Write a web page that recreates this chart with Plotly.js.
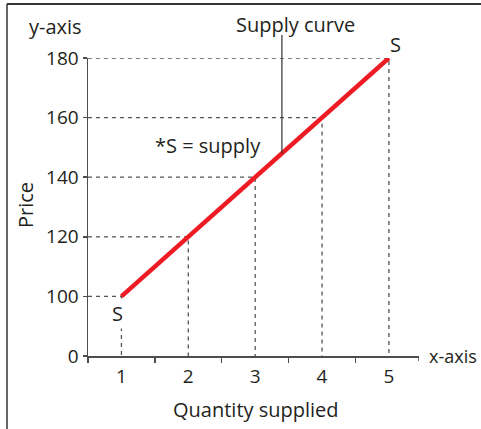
<!DOCTYPE html>
<html>
<head>
<meta charset="utf-8">
<script src="https://cdn.plot.ly/plotly-3.0.1.min.js"></script>
<style>html,body{margin:0;padding:0;background:#fff;}#chart{width:481px;height:429px;}</style>
</head>
<body>
<div id="chart"></div>
<script>
// ---- data ----
var quantity = [1, 2, 3, 4, 5];
var price = [100, 120, 140, 160, 180];
var xTickLabels = ["1", "2", "3", "4", "5"];
var yTickLabels = ["0", "100", "120", "140", "160", "180"];
var curveLabel = "Supply curve";
var curvePointer = {q: 3.4, p: 148};
var noteText = "*S = supply";

// ---- layout helpers ----
var W = 481, H = 429;
var L = 88, R = 419, T = 58, B = 356;
function px(x){ return (x - L) / (R - L); }
function py(y){ return (B - y) / (B - T); }
var yFloor = 80;            // axis break: "0" shown at the floor
var xLo = 0.5, xHi = 5.45;
var ink = "#231f20";
var axisCol = "#4d4d4d";
var font = "Open Sans, Noto Sans, sans-serif";
var fs = 20;

var traces = [];
// dashed guide lines from data
for (var i = 0; i < quantity.length; i++) {
  traces.push({
    x: [xLo, quantity[i], quantity[i]],
    y: [price[i], price[i], yFloor],
    mode: "lines", type: "scatter", hoverinfo: "skip", showlegend: false,
    line: {color: "#555", width: 1.3, dash: "4px,4px"}
  });
}
// supply curve
traces.push({
  x: quantity, y: price, mode: "lines", type: "scatter", showlegend: false,
  line: {color: "#ed1c24", width: 4.5}, cliponaxis: false
});

var yTickVals = [yFloor].concat(price);

function note(x, y, text, extra){
  var a = {xref: "paper", yref: "paper", x: px(x), y: py(y), text: text, showarrow: false,
           xanchor: "center", yanchor: "middle", font: {size: fs, family: font, color: ink}};
  if (extra) for (var k in extra) a[k] = extra[k];
  return a;
}

var layout = {
  width: W, height: H,
  margin: {l: L, r: W - R, t: T, b: H - B, pad: 0},
  paper_bgcolor: "#fff", plot_bgcolor: "#fff",
  font: {family: font, size: fs, color: ink},
  showlegend: false,
  xaxis: {
    range: [xLo, xHi], showgrid: false, zeroline: false,
    showline: true, linecolor: axisCol, linewidth: 1.5,
    tickmode: "array", tickvals: quantity, ticktext: xTickLabels,
    ticks: "", ticklabelstandoff: 3,
    tickfont: {family: font, size: 19, color: ink},
    minor: {tickmode: "linear", tick0: 0.5, dtick: 1, ticks: "outside", ticklen: 5, tickcolor: axisCol, tickwidth: 1.5, showgrid: false}
  },
  yaxis: {
    range: [yFloor, 180], showgrid: false, zeroline: false,
    showline: true, linecolor: axisCol, linewidth: 1.5,
    tickmode: "array", tickvals: yTickVals, ticktext: yTickLabels,
    ticks: "outside", ticklen: 4, tickcolor: axisCol, tickwidth: 1.5,
    tickfont: {family: font, size: 19, color: ink}
  },
  shapes: [
    // outer frame
    {type: "line", xref: "paper", yref: "paper", x0: px(7), x1: px(7), y0: py(4), y1: py(432), line: {color: "#666", width: 2}},
    {type: "line", xref: "paper", yref: "paper", x0: px(7), x1: px(484), y0: py(4), y1: py(4), line: {color: "#333", width: 2}},
    // end tick of x axis
    {type: "line", xref: "x", yref: "paper", x0: xHi, x1: xHi, y0: 0, y1: py(361), line: {color: axisCol, width: 1.5}},
    // supply curve pointer
    {type: "line", xref: "x", yref: "paper", x0: curvePointer.q, x1: curvePointer.q,
     y0: (curvePointer.p - yFloor) / (180 - yFloor), y1: py(35), line: {color: "#333", width: 1.2}}
  ],
  annotations: [
    note(55, 27, "y-axis"),
    note(427, 356, "x-axis", {xanchor: "left", font: {size: 18, family: font, color: ink}}),
    note(25, 205, "Price", {textangle: -90}),
    note(256, 409, "Quantity supplied"),
    note(295, 24, curveLabel),
    note(208, 145, noteText),
    {xref: "x", yref: "y", x: quantity[0], y: price[0], xshift: -4, yshift: -17, text: "S", showarrow: false, bgcolor: "#fff", font: {size: fs, family: font, color: ink}},
    {xref: "x", yref: "y", x: quantity[4], y: price[4], xshift: 7, yshift: 14, text: "S", showarrow: false, font: {size: fs, family: font, color: ink}}
  ]
};

Plotly.newPlot("chart", traces, layout, {displayModeBar: false, staticPlot: true});
</script>
</body>
</html>
